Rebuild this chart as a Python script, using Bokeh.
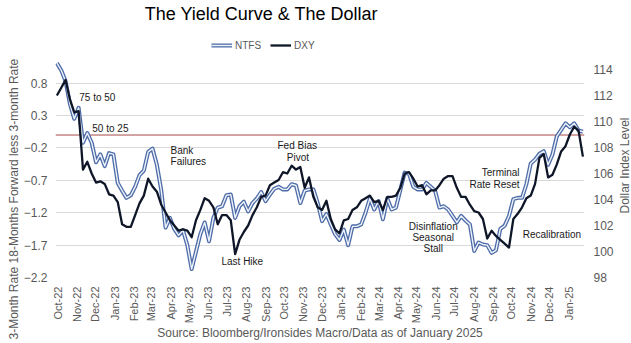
import numpy as np
import pandas as pd
from bokeh.plotting import figure
from bokeh.models import (LinearAxis, Range1d, FixedTicker, DatetimeTickFormatter,
                          Span, Label, Legend, LegendItem, ColumnDataSource, Title)
from bokeh.core.properties import value
from bokeh.embed import file_html
from bokeh.resources import INLINE

# ---------------- data ----------------
start_date = "2022-09-30"   # weekly observations

ntfs = [1.11, 1.00, 0.83, 0.48, 0.25, 0.42, -0.12, 0.03, -0.12, -0.42,
        -0.30, -0.48, -0.28, -0.30, -0.74, -0.86, -0.97, -0.93, -0.80, -0.62,
        -0.55, -0.26, -0.21, -0.46, -0.85, -1.43, -1.28, -1.45, -1.55, -1.47,
        -1.70, -2.07, -1.80, -1.53, -1.35, -1.64, -1.28, -1.12, -1.10, -0.93,
        -0.92, -1.28, -1.10, -1.03, -1.18, -1.05, -0.98, -0.88, -1.02, -0.92,
        -0.83, -0.80, -0.84, -0.84, -0.76, -0.78, -1.05, -0.86, -0.84, -0.84,
        -1.05, -1.33, -1.22, -1.38, -1.53, -1.62, -1.46, -1.70, -1.41, -1.41,
        -1.38, -1.20, -0.98, -1.15, -1.02, -1.30, -0.98, -1.15, -1.12, -0.85,
        -0.58, -0.60, -0.80, -0.84, -0.84, -0.74, -0.80, -0.86, -1.12, -1.10,
        -1.15, -1.25, -1.35, -1.25, -1.32, -1.38, -1.79, -1.66, -1.69, -1.70,
        -1.82, -1.78, -1.45, -1.40, -1.25, -0.99, -0.97, -0.97, -0.76, -0.44,
        -0.38, -0.29, -0.25, -0.46, -0.30, -0.02, 0.08, 0.18, 0.12, 0.18,
        0.07, 0.05]

dxy = [112.0, 112.6, 113.2, 111.7, 110.7, 110.8, 106.3, 106.9, 106.0, 105.3,
       105.4, 105.2, 104.4, 104.3, 103.8, 102.1, 101.9, 101.9, 102.8, 103.7,
       104.3, 105.6, 105.0, 104.6, 103.6, 103.0, 102.4, 102.0, 101.6, 101.7,
       101.6, 101.1, 102.4, 103.2, 104.1, 103.9, 103.4, 102.1, 102.8, 102.8,
       102.4, 99.8, 100.9, 101.5, 102.0, 102.8, 103.4, 104.2, 104.3, 105.1,
       105.3, 105.5, 106.1, 106.0, 106.6, 106.3, 106.5, 104.9, 105.7, 104.2,
       103.4, 103.2, 103.9, 102.5, 101.7, 101.4, 102.4, 102.5, 103.2, 103.4,
       103.9, 104.1, 104.3, 103.8, 103.9, 103.2, 104.2, 104.2, 104.3, 104.9,
       106.0, 106.1, 105.6, 105.0, 105.1, 104.4, 104.7, 104.7, 105.1, 105.6,
       105.8, 105.8, 104.9, 104.2, 104.2, 103.6, 103.1, 103.0, 102.5, 101.0,
       101.6, 101.2, 100.9, 100.6, 100.3, 102.5, 102.9, 103.4, 104.1, 104.3,
       105.2, 107.2, 107.5, 105.7, 105.9, 106.7, 107.7, 108.1, 109.0, 109.6,
       109.3, 107.3]

tick_labels = ["Oct-22", "Nov-22", "Dec-22", "Jan-23", "Feb-23", "Mar-23", "Apr-23",
               "May-23", "Jun-23", "Jul-23", "Aug-23", "Sep-23", "Oct-23", "Nov-23",
               "Dec-23", "Jan-24", "Feb-24", "Mar-24", "Apr-24", "May-24", "Jun-24",
               "Jul-24", "Aug-24", "Sep-24", "Oct-24", "Nov-24", "Dec-24", "Jan-25"]
left_ticks = [-2.2, -1.7, -1.2, -0.7, -0.2, 0.3, 0.8]
right_ticks = [98, 100, 102, 104, 106, 108, 110, 112, 114]

ann_text = ["75 to 50", "50 to 25", "Bank", "Failures", "Last Hike", "Fed Bias", "Pivot",
            "Disinflation", "Seasonal", "Stall", "Terminal", "Rate Reset", "Recalibration"]
ann_date = ["2022-11-05", "2022-11-26", "2023-04-01", "2023-04-01", "2023-06-22",
            "2023-10-22", "2023-10-23", "2024-05-28", "2024-05-28", "2024-05-28",
            "2024-10-14", "2024-10-14", "2024-10-19"]
ann_val = [0.585, 0.108, -0.246, -0.415, -1.954, -0.169, -0.354,
           -1.415, -1.585, -1.754, -0.585, -0.769, -1.538]
ann_align = ["left", "left", "left", "left", "left", "center", "center",
             "center", "center", "center", "right", "right", "left"]

# ---------------- figure ----------------
dates = pd.date_range(start_date, periods=len(ntfs), freq="7D")
src = ColumnDataSource(dict(date=dates, ntfs=ntfs, dxy=dxy))

FONT = "Liberation Sans"
GREY = "#595959"

p = figure(width=631, height=343, output_backend="svg", toolbar_location=None,
           x_axis_type="datetime", title_location=None,
           x_range=Range1d(pd.Timestamp("2022-09-27 18:00"), pd.Timestamp("2025-01-26 14:00")),
           y_range=Range1d(-2.2, 2.077),
           min_border_left=55, min_border_right=47, min_border_top=0, min_border_bottom=65)
p.extra_y_ranges = {"dxy": Range1d(98, 119.31)}
p.outline_line_color = None
p.background_fill_color = "white"
p.border_fill_color = "white"

p.xgrid.visible = False
p.ygrid.ticker = FixedTicker(ticks=left_ticks)
p.ygrid.grid_line_color = "#d9d9d9"
p.ygrid.grid_line_width = 1

tick_ms = [pd.to_datetime(t, format="%b-%y").value // 10**6 for t in tick_labels]
p.xaxis.ticker = FixedTicker(ticks=tick_ms)
fmt = "%b-%y"
p.xaxis.formatter = DatetimeTickFormatter(days=fmt, months=fmt, years=fmt, hours=fmt,
                                          hourmin=fmt, minutes=fmt, minsec=fmt,
                                          seconds=fmt, milliseconds=fmt, microseconds=fmt)
p.xaxis.major_label_orientation = np.pi / 2
p.yaxis.ticker = FixedTicker(ticks=left_ticks)

ax_r = LinearAxis(y_range_name="dxy", ticker=FixedTicker(ticks=right_ticks))
p.add_layout(ax_r, "right")

for ax in [p.xaxis[0], p.yaxis[0], ax_r]:
    ax.axis_line_color = None
    ax.major_tick_line_color = None
    ax.minor_tick_line_color = None
    ax.major_tick_in = 0
    ax.major_tick_out = 0
    ax.minor_tick_in = 0
    ax.minor_tick_out = 0
    ax.major_label_text_color = GREY
    ax.major_label_text_font = FONT
    ax.major_label_text_font_size = "12px"
p.xaxis[0].major_label_text_font_size = "11px"
p.xaxis[0].major_label_standoff = 9
p.yaxis[0].major_label_standoff = 8
ax_r.major_label_standoff = 9

# source line as the x-axis title
p.xaxis[0].axis_label = "Source: Bloomberg/Ironsides Macro/Data as of January 2025"
p.xaxis[0].axis_label_text_font = FONT
p.xaxis[0].axis_label_text_font_size = "12px"
p.xaxis[0].axis_label_text_font_style = "normal"
p.xaxis[0].axis_label_text_color = GREY
p.xaxis[0].axis_label_standoff = 0

zero = Span(location=0, dimension="width", line_color="#a84848", line_width=1, level="underlay")
p.add_layout(zero)

r_out = p.line("date", "ntfs", source=src, line_color="#4d6ca8", line_width=4, line_join="round")
r_in = p.line("date", "ntfs", source=src, line_color="#eef2f9", line_width=1.4, line_join="round")
r_dxy = p.line("date", "dxy", source=src, y_range_name="dxy", line_color="#0e1628",
               line_width=2.3, line_join="round")

for al in ["left", "center", "right"]:
    idx = [i for i, a in enumerate(ann_align) if a == al]
    s = ColumnDataSource(dict(x=[pd.Timestamp(ann_date[i]) for i in idx],
                              y=[ann_val[i] for i in idx],
                              text=[ann_text[i] for i in idx]))
    p.text("x", "y", text="text", source=s, text_align=al, text_baseline="middle",
           text_font=value(FONT), text_font_size="10px", text_color="#1a1a1a")

legend = Legend(items=[LegendItem(label="NTFS", renderers=[r_out, r_in]),
                       LegendItem(label="DXY", renderers=[r_dxy])],
                orientation="horizontal", location=(156, 226),
                border_line_color=None, background_fill_alpha=0, padding=0, margin=0,
                spacing=9, glyph_width=21, glyph_height=12, label_standoff=3,
                label_height=12, label_text_font=FONT, label_text_font_size="10px",
                label_text_color=GREY)
p.add_layout(legend)

p.add_layout(Label(x=206, y=264, x_units="screen", y_units="screen",
                   text="The Yield Curve & The Dollar", text_align="center",
                   text_baseline="middle", text_font=FONT, text_font_size="18px",
                   text_color="#000000"))

# left axis title (side panel, shifted down like the original)
p.add_layout(Title(text="3-Month Rate 18-Months Forward less 3-month Rate", align="left",
                   offset=-62, text_font=FONT, text_font_size="12px",
                   text_font_style="normal", text_color=GREY, standoff=0), "left")

# right axis title
p.add_layout(Label(x=8, y=112, x_units="screen", y_units="screen", angle=np.pi / 2,
                   text="Dollar Index Level", text_align="center", text_baseline="middle",
                   text_font=FONT, text_font_size="12px", text_color=GREY), "right")

open("out.html", "w").write(file_html(p, INLINE))
